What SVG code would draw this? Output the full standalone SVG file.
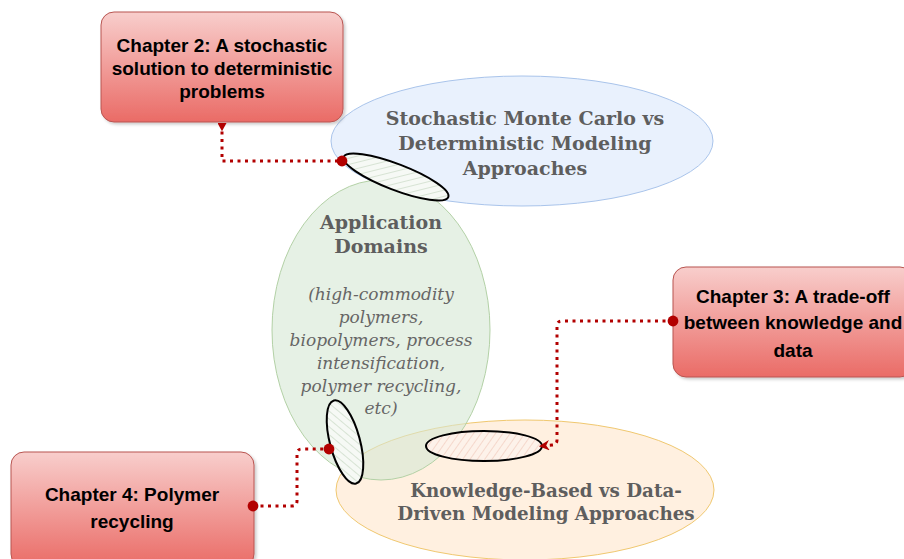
<svg xmlns="http://www.w3.org/2000/svg" width="904" height="559" viewBox="0 0 904 559">
<style>
.chap{fill:url(#gradRed);stroke:#b85450;stroke-width:1}
.ctext{font-family:"Liberation Sans",Arial,sans-serif;font-weight:bold;font-size:19px;fill:#000;text-anchor:middle}
.stext{font-family:"DejaVu Serif",Georgia,serif;font-weight:bold;font-size:19px;fill:#5e5e5e;text-anchor:middle}
.ktext{font-family:"DejaVu Serif",Georgia,serif;font-weight:bold;font-size:18.3px;fill:#5e5e5e;text-anchor:middle}
.itext{font-family:"DejaVu Serif",Georgia,serif;font-style:italic;font-size:17px;fill:#666;text-anchor:middle}
.conn{fill:none;stroke:#b20000;stroke-width:3;stroke-dasharray:3 4.5}
.hatch{stroke:#000;stroke-width:2}
</style>
<defs>
<linearGradient id="gradRed" x1="0" y1="0" x2="0" y2="1">
<stop offset="0" stop-color="#f8cecc"/>
<stop offset="1" stop-color="#ea6b66"/>
</linearGradient>
<pattern id="hatchG" width="6" height="6" patternUnits="userSpaceOnUse" patternTransform="rotate(-35)">
<rect width="6" height="6" fill="#f6f9f5"/>
<line x1="0" y1="0" x2="6" y2="0" stroke="#c3d5bf" stroke-width="1.2"/>
</pattern>
<pattern id="hatchP" width="6" height="6" patternUnits="userSpaceOnUse" patternTransform="rotate(-55)">
<rect width="6" height="6" fill="#fdf2ea"/>
<line x1="0" y1="0" x2="6" y2="0" stroke="#f0c8b8" stroke-width="1.2"/>
</pattern>
<filter id="sh" x="-10%" y="-10%" width="130%" height="130%">
<feDropShadow dx="2" dy="2" stdDeviation="1.5" flood-color="#000" flood-opacity="0.2"/>
</filter>
<marker id="dot" viewBox="0 0 10 10" refX="5" refY="5" markerWidth="4" markerHeight="4" markerUnits="strokeWidth">
<circle cx="5" cy="5" r="4.5" fill="#b20000"/>
</marker>
<marker id="tri" viewBox="0 0 10 10" refX="5" refY="1" markerWidth="3" markerHeight="3" markerUnits="strokeWidth" orient="0">
<path d="M0,0 L10,0 L5,9 Z" fill="#b20000"/>
</marker>
<marker id="arr" viewBox="0 0 10 10" refX="8" refY="5" markerWidth="3.5" markerHeight="3.5" markerUnits="strokeWidth" orient="auto">
<path d="M0,0 L10,5 L0,10 L3,5 Z" fill="#b20000"/>
</marker>
</defs>
<rect width="904" height="559" fill="#fff"/>

<g id="ellipse-stochastic">
<ellipse cx="522" cy="141" rx="191" ry="65" fill="#dae8fc" fill-opacity="0.6" stroke="#a9c4eb" stroke-width="1"/>
<text class="stext" x="525" y="125">Stochastic Monte Carlo vs</text>
<text class="stext" x="525" y="150">Deterministic Modeling</text>
<text class="stext" x="525" y="175">Approaches</text>
</g>

<g id="ellipse-knowledge">
<ellipse cx="525" cy="490" rx="189" ry="70" fill="#ffe6cc" fill-opacity="0.6" stroke="#f0c870" stroke-width="1"/>
</g>

<g id="ellipse-application">
<ellipse cx="381" cy="330" rx="109" ry="150" fill="#d5e8d4" fill-opacity="0.6" stroke="#b3d1a6" stroke-width="1"/>
<text class="stext" x="381" y="229">Application</text>
<text class="stext" x="381" y="253">Domains</text>
<text class="itext" x="381" y="300">(high-commodity</text>
<text class="itext" x="381" y="323">polymers,</text>
<text class="itext" x="381" y="346">biopolymers, process</text>
<text class="itext" x="381" y="369">intensification,</text>
<text class="itext" x="381" y="392">polymer recycling,</text>
<text class="itext" x="381" y="414">etc)</text>
</g>

<g id="knowledge-text">
<text class="ktext" x="546" y="497">Knowledge-Based vs Data-</text>
<text class="ktext" x="546" y="520">Driven Modeling Approaches</text>
</g>

<g id="overlap-top">
<ellipse class="hatch" cx="396" cy="177" rx="56" ry="13" transform="rotate(21 396 177)" fill="url(#hatchG)"/>
</g>
<g id="overlap-left">
<ellipse class="hatch" cx="345" cy="442" rx="43" ry="15" transform="rotate(75 345 442)" fill="url(#hatchG)"/>
</g>
<g id="overlap-bottom">
<ellipse class="hatch" cx="484" cy="446" rx="58" ry="15" fill="url(#hatchP)"/>
</g>

<g id="chapter2">
<rect class="chap" x="101" y="12" width="242" height="110" rx="13" filter="url(#sh)"/>
<text class="ctext" x="222" y="52">Chapter 2: A stochastic</text>
<text class="ctext" x="222" y="75">solution to deterministic</text>
<text class="ctext" x="222" y="98">problems</text>
</g>

<g id="chapter3">
<rect class="chap" x="673" y="267" width="240" height="110" rx="13" filter="url(#sh)"/>
<text class="ctext" x="793" y="303">Chapter 3: A trade-off</text>
<text class="ctext" x="793" y="329">between knowledge and</text>
<text class="ctext" x="793" y="357">data</text>
</g>

<g id="chapter4">
<rect class="chap" x="11" y="452" width="243" height="115" rx="13" filter="url(#sh)"/>
<text class="ctext" x="132" y="501">Chapter 4: Polymer</text>
<text class="ctext" x="132" y="528">recycling</text>
</g>

<g id="connectors">
<path class="conn" d="M222,124 L222,161 L342,161" marker-start="url(#tri)" marker-end="url(#dot)"/>
<path class="conn" d="M673,321 L562,321 Q557,321 557,326 L557,440 Q557,445 552,445 L541,446" marker-start="url(#dot)" marker-end="url(#arr)"/>
<path class="conn" d="M253,506 L292,506 Q297,506 297,501 L297,454 Q297,449 302,449 L329,449" marker-start="url(#dot)" marker-end="url(#dot)"/>
</g>
</svg>
